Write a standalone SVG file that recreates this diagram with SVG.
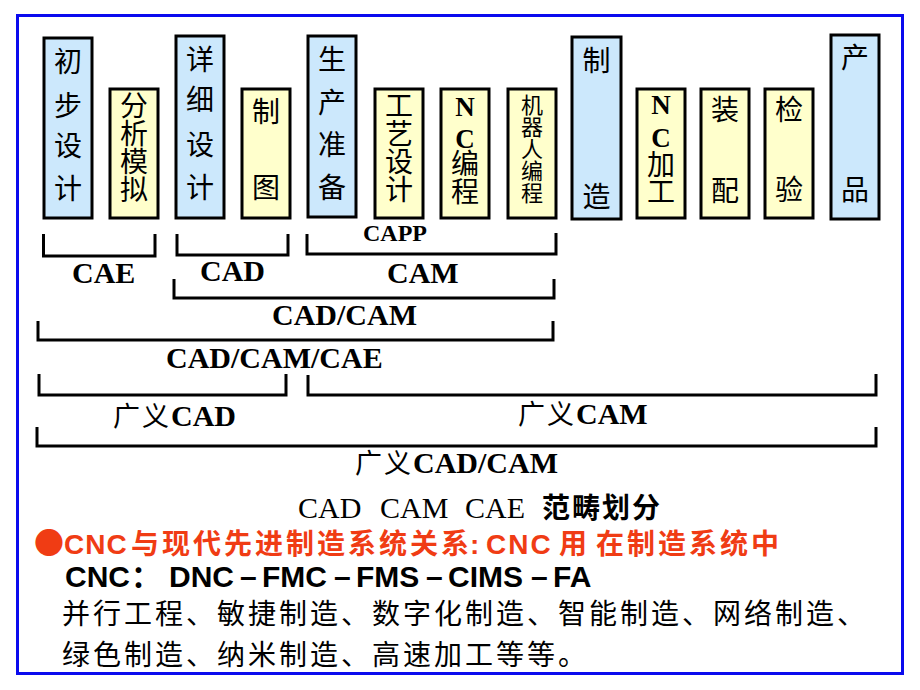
<svg xmlns="http://www.w3.org/2000/svg" width="920" height="690" viewBox="0 0 920 690">
<style>
.box{stroke:#000;stroke-width:3}
.bl{fill:#cce8fc}
.ye{fill:#ffffcc}
.cj{font-family:"Noto Sans CJK SC",sans-serif;font-size:28px;text-anchor:middle;fill:#000}
.sm{font-size:22px}
.nc{font-family:"Liberation Serif",serif;font-weight:bold;font-size:27px;text-anchor:middle;fill:#000}
.br{fill:none;stroke:#000;stroke-width:3}
.lb{font-family:"Liberation Serif",serif;font-weight:bold;font-size:30px;fill:#000}
.gy{font-family:"Noto Sans CJK SC",sans-serif;font-weight:normal;font-size:27px;letter-spacing:2px}
.tr{font-family:"Liberation Serif",serif;font-size:30px;fill:#000}
.red{font-family:"Liberation Sans","Noto Sans CJK SC",sans-serif;font-weight:bold;font-size:28px;fill:#f03c14}
.blk{font-family:"Liberation Sans","Noto Sans CJK SC",sans-serif;font-weight:bold;font-size:30px;fill:#000}
.zh{font-family:"Noto Sans CJK SC",sans-serif;font-size:28px;letter-spacing:3px;fill:#000}
</style>
<rect x="17.5" y="15.5" width="885" height="658" fill="#fff" stroke="#0a0aee" stroke-width="3"/>

<g id="n1"><rect class="box bl" x="44" y="38" width="48" height="180"/>
<text class="cj" x="68" y="72">初</text><text class="cj" x="68" y="116">步</text><text class="cj" x="68" y="156">设</text><text class="cj" x="68" y="199">计</text></g>
<g id="n2"><rect class="box ye" x="110" y="89" width="48" height="129"/>
<text class="cj" x="134" y="116">分</text><text class="cj" x="134" y="144">析</text><text class="cj" x="134" y="172">模</text><text class="cj" x="134" y="200">拟</text></g>
<g id="n3"><rect class="box bl" x="176" y="36" width="48" height="182"/>
<text class="cj" x="200" y="70">详</text><text class="cj" x="200" y="110">细</text><text class="cj" x="200" y="155">设</text><text class="cj" x="200" y="198">计</text></g>
<g id="n4"><rect class="box ye" x="242" y="89" width="48" height="129"/>
<text class="cj" x="266" y="122">制</text><text class="cj" x="266" y="198">图</text></g>
<g id="n5"><rect class="box bl" x="308" y="36" width="48" height="181"/>
<text class="cj" x="332" y="70">生</text><text class="cj" x="332" y="113">产</text><text class="cj" x="332" y="155">准</text><text class="cj" x="332" y="198">备</text></g>
<g id="n6"><rect class="box ye" x="375" y="89" width="48" height="129"/>
<text class="cj" x="399" y="116">工</text><text class="cj" x="399" y="144">艺</text><text class="cj" x="399" y="172">设</text><text class="cj" x="399" y="200">计</text></g>
<g id="n7"><rect class="box ye" x="441" y="89" width="48" height="129"/>
<text class="nc" x="465" y="116">N</text><text class="nc" x="465" y="148">C</text><text class="cj" x="465" y="174">编</text><text class="cj" x="465" y="202">程</text></g>
<g id="n8"><rect class="box ye" x="508" y="89" width="48" height="129"/>
<text class="cj sm" x="532" y="113">机</text><text class="cj sm" x="532" y="135">器</text><text class="cj sm" x="532" y="157">人</text><text class="cj sm" x="532" y="179">编</text><text class="cj sm" x="532" y="201">程</text></g>
<g id="n9"><rect class="box bl" x="572" y="37" width="49" height="182"/>
<text class="cj" x="596.5" y="71">制</text><text class="cj" x="596.5" y="207">造</text></g>
<g id="n10"><rect class="box ye" x="637" y="89" width="48" height="129"/>
<text class="nc" x="661" y="114">N</text><text class="nc" x="661" y="147">C</text><text class="cj" x="661" y="175">加</text><text class="cj" x="661" y="202">工</text></g>
<g id="n11"><rect class="box ye" x="701" y="89" width="48" height="129"/>
<text class="cj" x="725" y="120">装</text><text class="cj" x="725" y="201">配</text></g>
<g id="n12"><rect class="box ye" x="765" y="89" width="48" height="129"/>
<text class="cj" x="789" y="120">检</text><text class="cj" x="789" y="200">验</text></g>
<g id="n13"><rect class="box bl" x="831" y="35" width="48" height="184"/>
<text class="cj" x="855" y="68">产</text><text class="cj" x="855" y="200">品</text></g>

<g id="connectors">
<path class="br" d="M43.5 234V256H155V234"/>
<path class="br" d="M177 234V255H288V234"/>
<path class="br" d="M307 234V254H556V233"/>
<path class="br" d="M174 279V298H554V279"/>
<path class="br" d="M38 321V340H553V321"/>
<path class="br" d="M39 374V395H286V374"/>
<path class="br" d="M308 375V395H876V374"/>
<path class="br" d="M37 427V446H876V427"/>
</g>

<g id="labels">
<text class="lb" x="363" y="241" style="font-size:24px">CAPP</text>
<text class="lb" x="72" y="283">CAE</text>
<text class="lb" x="200" y="281">CAD</text>
<text class="lb" x="387" y="283">CAM</text>
<text class="lb" x="272" y="325">CAD/CAM</text>
<text class="lb" x="166" y="368">CAD/CAM/CAE</text>
<text class="lb" x="113" y="426"><tspan class="gy">广义</tspan>CAD</text>
<text class="lb" x="518" y="424"><tspan class="gy">广义</tspan>CAM</text>
<text class="lb" x="355" y="473"><tspan class="gy">广义</tspan>CAD/CAM</text>
</g>

<g id="text">
<text class="tr" y="518"><tspan x="298">CAD</tspan><tspan x="380">CAM</tspan><tspan x="465">CAE</tspan></text>
<text x="542" y="518" style="font-family:'Noto Sans CJK SC',sans-serif;font-weight:bold;font-size:28px;letter-spacing:2px">范畴划分</text>
<text class="red" y="554"><tspan x="34" style="font-family:'Noto Sans CJK SC',sans-serif;font-size:30px">●</tspan><tspan x="64" style="letter-spacing:1px">CNC</tspan><tspan x="131" style="letter-spacing:3px">与现代先进制造系统关系</tspan><tspan x="470">:</tspan><tspan x="486" style="letter-spacing:2px">CNC</tspan><tspan x="559">用</tspan><tspan x="596" style="letter-spacing:3px">在制造系统中</tspan></text>
<text class="blk" y="587"><tspan x="65">CNC</tspan><tspan x="131">：</tspan><tspan x="169">DNC</tspan><tspan x="240">–</tspan><tspan x="262">FMC</tspan><tspan x="334">–</tspan><tspan x="356">FMS</tspan><tspan x="426">–</tspan><tspan x="448">CIMS</tspan><tspan x="531">–</tspan><tspan x="553">FA</tspan></text>
<text class="zh" x="62" y="624">并行工程、敏捷制造、数字化制造、智能制造、网络制造、</text>
<text class="zh" x="62" y="665">绿色制造、纳米制造、高速加工等等。</text>
</g>
</svg>
